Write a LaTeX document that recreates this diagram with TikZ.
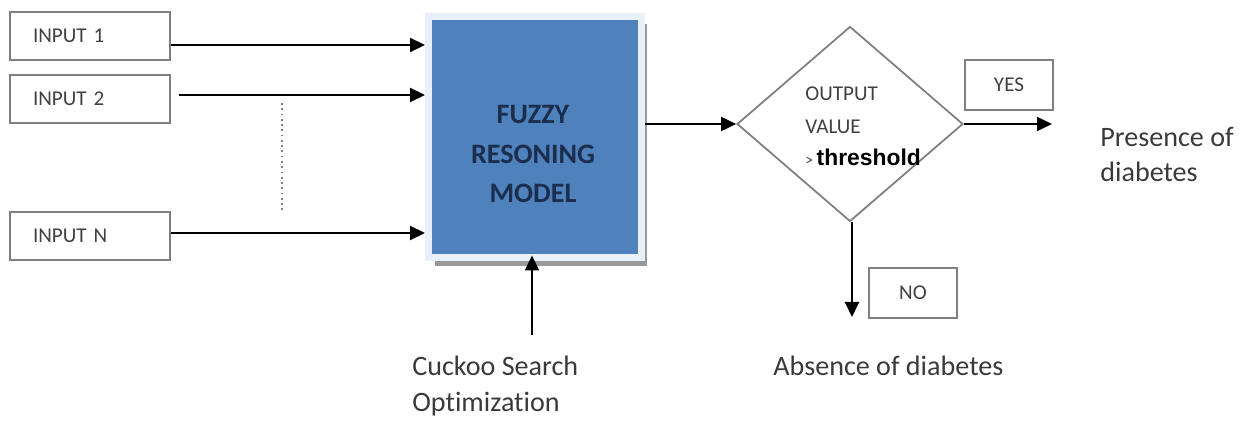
\documentclass[tikz,border=0pt]{standalone}
\usepackage{fontspec}
\setmainfont[Ligatures = NoCommon]{Carlito}
\newfontfamily\arialfont{Liberation Sans}
\usepackage{tikz}
\usetikzlibrary{arrows.meta,shapes.geometric,shadows}
\definecolor{modelblue}{HTML}{4F81BD}
\definecolor{modelframe}{HTML}{E8F0F9}
\definecolor{modeltext}{HTML}{1C2E4E}
\definecolor{boxline}{HTML}{7F7F7F}
\definecolor{boxtext}{HTML}{404040}
\definecolor{labeltext}{HTML}{3A3A3A}

\begin{document}
\begin{tikzpicture}[x = 0.02cm, y = -0.02cm,
  inbox/.style = {draw = boxline, line width = 1pt, minimum width = 3.2cm, minimum height = 0.96cm,
    text width = 2.28cm, inner xsep = 0.46cm, align = left, text = boxtext, font = \fontsize{12}{14}\selectfont},
  ansbox/.style = {draw = boxline, line width = 1pt, minimum width = 1.76cm, minimum height = 1cm,
    text = boxtext, font = \fontsize{12}{14}\selectfont},
  arr/.style = {line width = 1.1pt, -{Triangle[length = 0.3cm, width = 0.28cm]}},
  caption/.style = {anchor = base west, align = left, text = labeltext, inner sep = 0pt}]
\useasboundingbox (0,0) rectangle (1248,421);

% inputs
\node [inbox] (in1) at (90,36) {INPUT 1};
\node [inbox] (in2) at (90,99) {INPUT 2};
\node [inbox] (inN) at (90,236) {INPUT N};
\draw [gray, dotted, line width = 1pt] (282,103) -- (282,210);

% model
\node [fill = modelblue, draw = modelframe, line width = 0.14cm, minimum width = 4.26cm, minimum height = 4.84cm,
  drop shadow = {shadow xshift = 0.12cm, shadow yshift = -0.16cm, fill = gray!80, opacity = 1}] (fuzzy) at (535,137) {};
\node [align = center, text = modeltext, font = \fontsize{16}{22.7}\selectfont\bfseries] (fuzzylbl) at (533,154)
  {FUZZY\\RESONING\\MODEL};

% decision
\node [diamond, draw = boxline, line width = 1pt, minimum width = 4.52cm, minimum height = 3.9cm, inner sep = 0pt] (dec) at (850,124) {};
\node [anchor = base west, align = left, inner sep = 0pt, text = boxtext, font = \fontsize{12}{18.7}\selectfont] (declbl) at (805,166)
  {OUTPUT\\VALUE\\{\fontsize{9}{9}\selectfont>}\,{\arialfont\bfseries\fontsize{13}{13}\selectfont\color{black}threshold}};

\node [ansbox] (yes) at (1009,85) {YES};
\node [ansbox] (no) at (913,293) {NO};

% captions
\node [caption, font = \fontsize{16}{21}\selectfont] (cso) at (412,412) {Cuckoo Search\\Optimization};
\node [caption, font = \fontsize{16}{20}\selectfont] (present) at (1100,182) {Presence of\\diabetes};
\node [caption, font = \fontsize{16}{20}\selectfont] (absent) at (773,376) {Absence of diabetes};
\coordinate (csotop) at (532,335);
\coordinate (yesend) at (1052,124);
\coordinate (noend) at (852,317);

% connectors
\draw [arr] ([yshift = -0.18cm]in1.east) -- ([yshift = -0.18cm]in1.east -| fuzzy.west);
\draw [arr] ([xshift = 0.16cm, yshift = 0.08cm]in2.east) -- ([yshift = 0.08cm]in2.east -| fuzzy.west);
\draw [arr] ([yshift = 0.06cm]inN.east) -- ([yshift = 0.06cm]inN.east -| fuzzy.west);
\draw [arr, shorten >= -0.12cm] (csotop) -- (csotop |- fuzzy.south);
\draw [arr] (fuzzy.east |- dec.west) -- (dec.west);
\draw [arr] (dec.east) -- (yesend);
\draw [arr] (dec.south -| noend) -- (noend);
\end{tikzpicture}
\end{document}
